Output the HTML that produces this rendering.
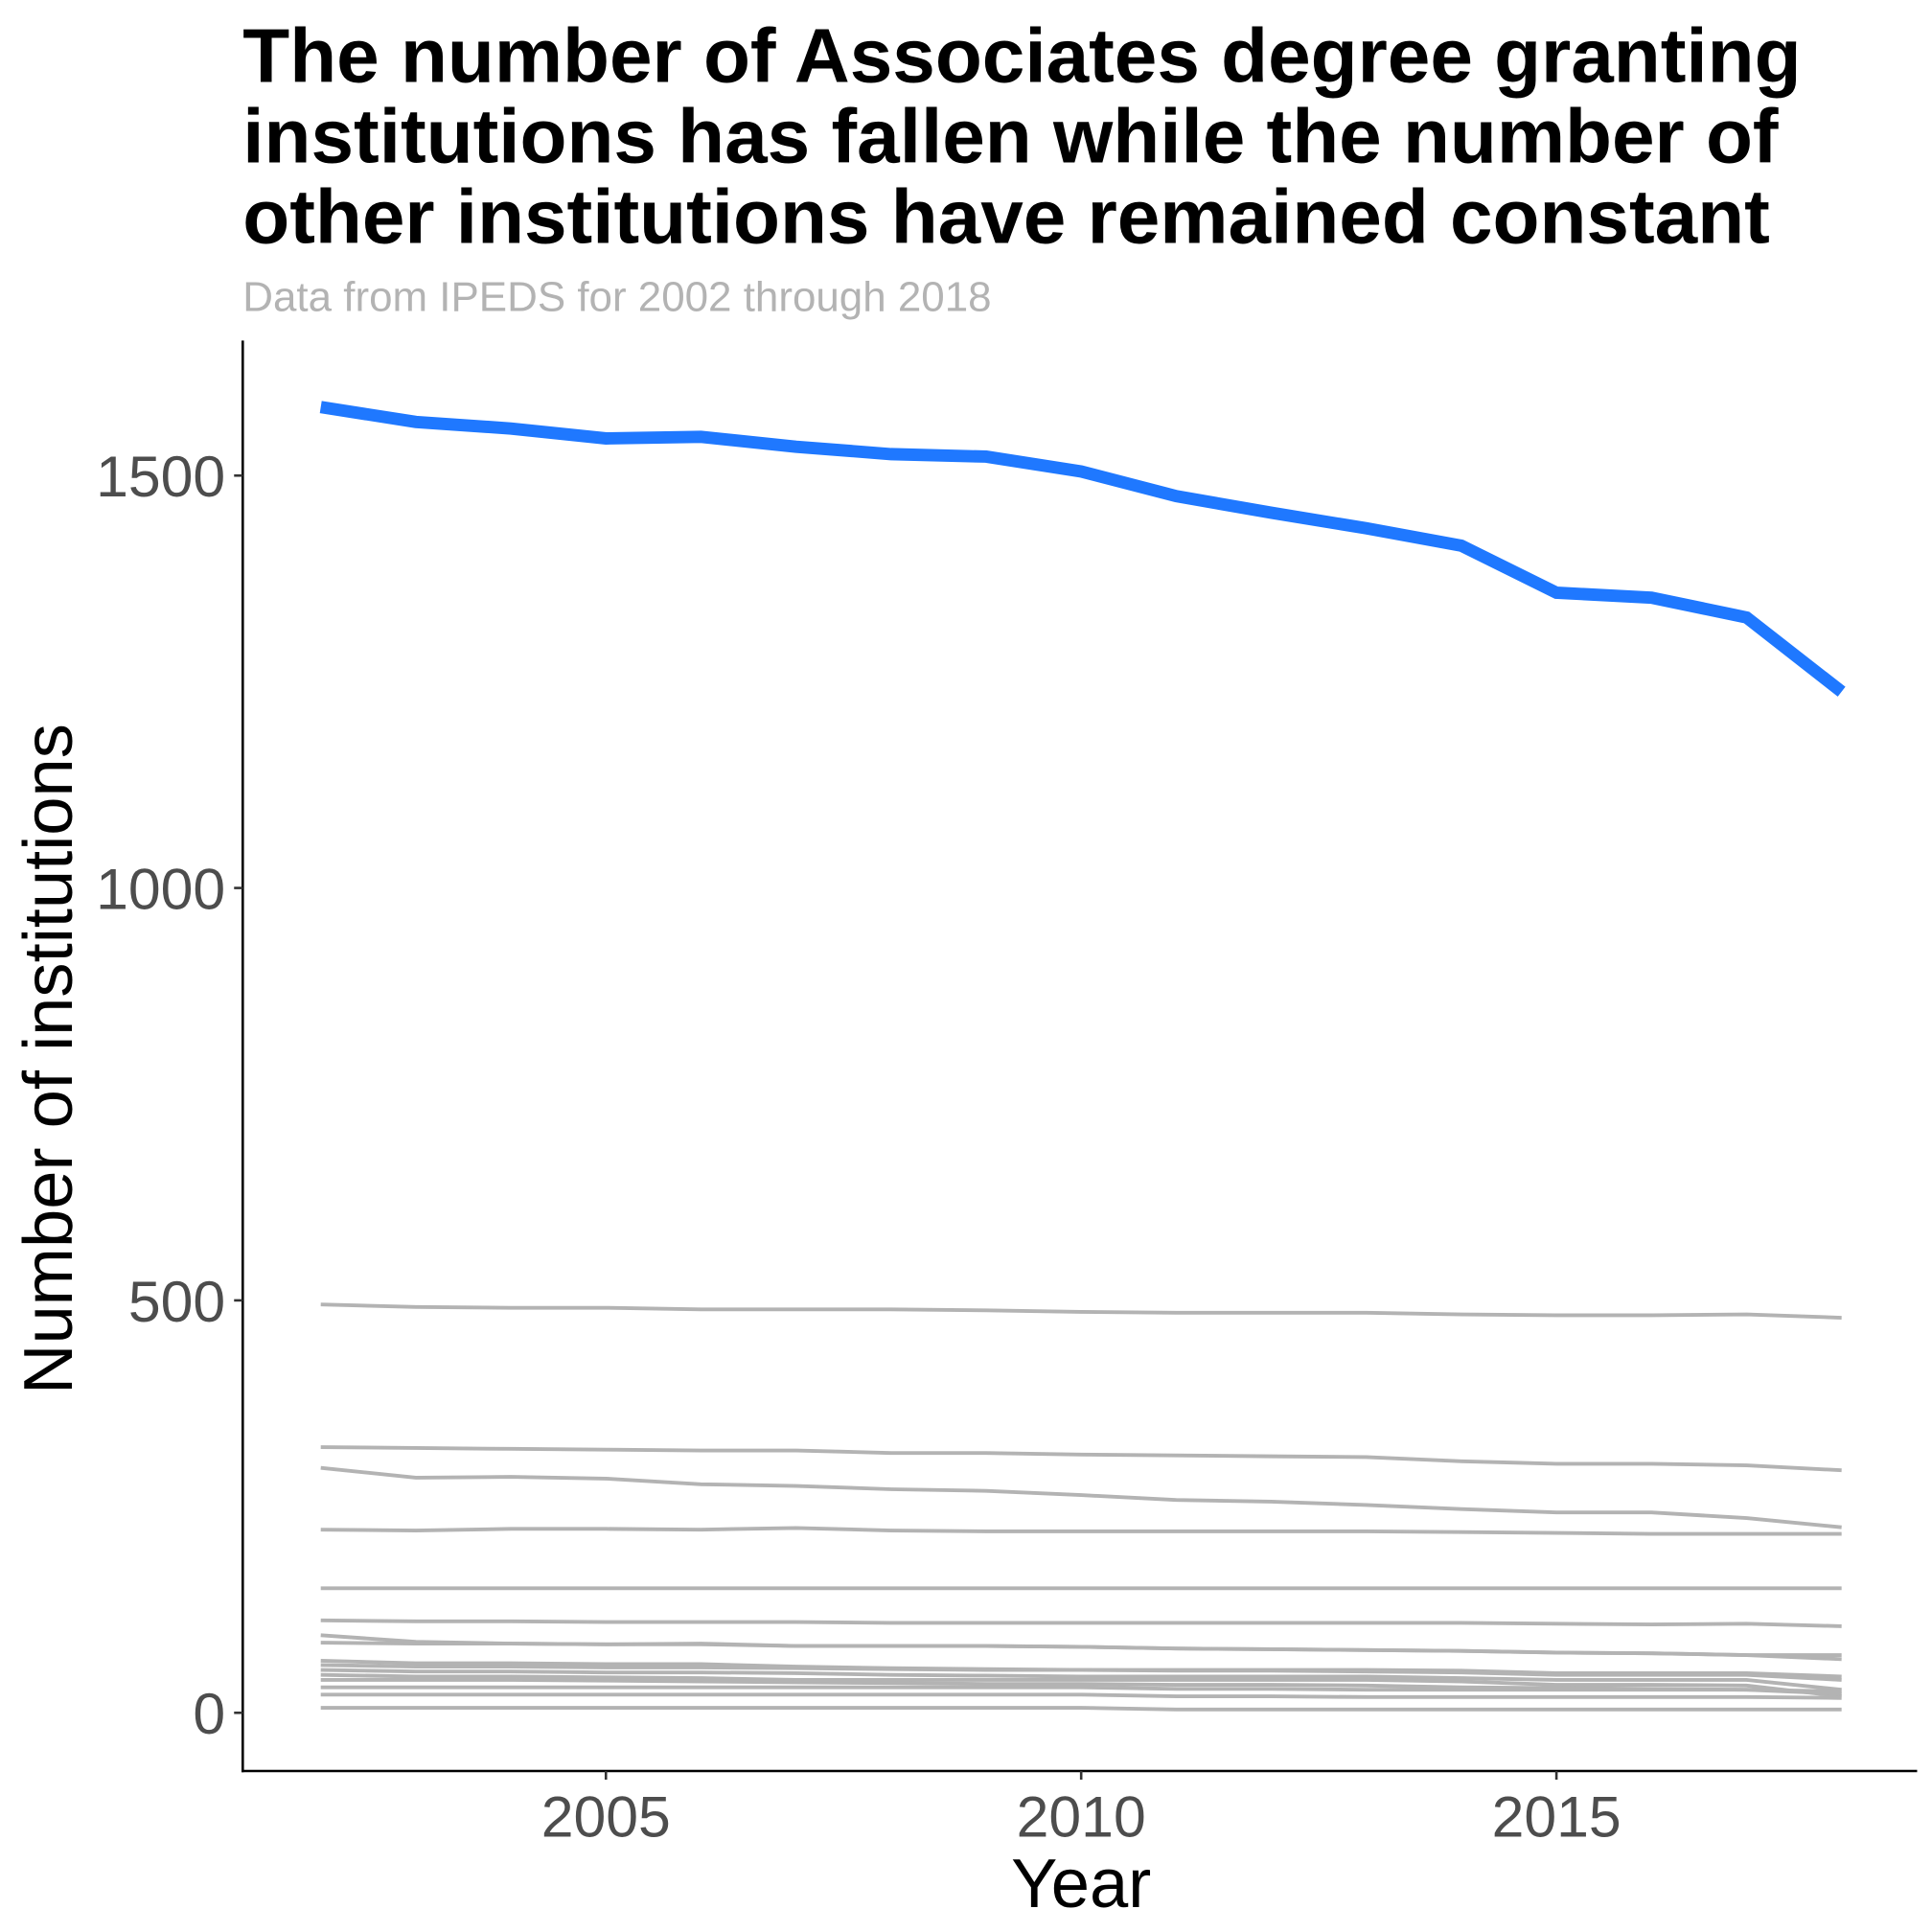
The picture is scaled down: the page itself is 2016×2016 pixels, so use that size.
<!DOCTYPE html>
<html><head><meta charset="utf-8">
<style>
html,body{margin:0;padding:0;background:#fff;}
svg{display:block;font-family:"Liberation Sans",Arial,sans-serif;}
</style></head>
<body>
<svg id="chart" width="2016" height="2016" viewBox="0 0 1560 1560" xmlns="http://www.w3.org/2000/svg">
  <text font-weight="bold" font-size="62" fill="#000">
    <tspan x="196" y="66">The number of Associates degree granting</tspan>
    <tspan x="196" y="131">institutions has fallen while the number of</tspan>
    <tspan x="196" y="196">other institutions have remained constant</tspan>
  </text>
  <text x="196" y="251" font-size="34" fill="#b3b3b3">Data from IPEDS for 2002 through 2018</text>
  <g id="grey-lines"></g>
  <g id="blue-line"></g>
  <line x1="196" y1="275" x2="196" y2="1431" stroke="#000" stroke-width="2"/>
  <line x1="195" y1="1430" x2="1548" y2="1430" stroke="#000" stroke-width="2"/>
  <g id="y-ticks"></g>
  <g id="x-ticks"></g>
  <text x="873" y="1540" font-size="56" text-anchor="middle" fill="#000">Year</text>
  <text transform="translate(58,855) rotate(-90)" font-size="56" text-anchor="middle" fill="#000">Number of institutions</text>
</svg>
<script>
const years = [2002,2003,2004,2005,2006,2007,2008,2009,2010,2011,2012,2013,2014,2015,2016,2017,2018];
const associates = [1583,1565,1557,1545,1547,1535,1526,1523,1505,1475,1455,1436,1415,1358,1352,1328,1238];
const other1 = [495,492,491,491,489,489,489,488,486,485,485,485,483,482,482,483,479];
const other2 = [322,321,320,319,318,318,315,315,313,312,311,310,305,302,302,300,294];
const other3 = [297,285,286,284,277,275,271,269,264,258,256,252,247,243,243,236,225];
const other4 = [222,221,223,223,222,224,221,220,220,220,220,220,219,218,217,217,217];
const other5 = [151,151,151,151,151,151,151,151,151,151,151,151,151,151,151,151,151];
const other6 = [112,111,111,110,110,110,109,109,109,109,109,109,109,108,107,108,105];
const other7 = [94,86,84,83,83,81,81,81,80,78,77,76,75,73,72,70,65];
const other8 = [85,84,84,83,84,81,81,81,80,78,77,76,75,73,72,70,70];
const other9 = [63,60,60,59,59,56,54,53,52,52,52,52,51,48,48,48,44];
const other10 = [58,56,56,55,55,54,53,52,52,51,51,50,49,46,46,46,40];
const other11 = [52,50,50,49,49,48,46,45,44,44,44,44,42,40,40,40,28];
const other12 = [46,44,44,43,42,40,40,40,40,40,40,40,38,34,34,33,20];
const other13 = [40,40,40,39,38,37,36,35,35,34,34,33,31,30,29,28,23];
const other14 = [31,31,31,31,31,31,31,31,31,29,29,28,28,28,28,28,26];
const other15 = [22,22,22,22,22,22,22,22,22,20,20,19,19,19,19,19,18];
const other16 = [6,6,6,6,6,6,6,6,6,4,4,4,4,4,4,4,4];
const otherSeries = [other1,other2,other3,other4,other5,other6,other7,other8,other9,other10,other11,other12,other13,other14,other15,other16];
const yTicks = [0,500,1000,1500];
const xTicks = [2005,2010,2015];

const NS = "http://www.w3.org/2000/svg";
function xScale(yr){ return 259 + (yr-2002)*(1487-259)/16; }
function yScale(v){ return 1383 - v*(1383-384)/1500; }
function linePath(vals){
  return vals.map((v,i)=>(i?"L":"M")+xScale(years[i]).toFixed(1)+","+yScale(v).toFixed(1)).join(" ");
}
const grey = document.getElementById("grey-lines");
otherSeries.forEach((s,i)=>{
  const p = document.createElementNS(NS,"path");
  p.setAttribute("d", linePath(s));
  p.setAttribute("fill","none");
  p.setAttribute("stroke","#b3b3b3");
  p.setAttribute("stroke-width","3");
  
  
  grey.appendChild(p);
});
const blue = document.createElementNS(NS,"path");
blue.setAttribute("d", linePath(associates));
blue.setAttribute("fill","none");
blue.setAttribute("stroke","#1f78ff");
blue.setAttribute("stroke-width","10");


document.getElementById("blue-line").appendChild(blue);

const yt = document.getElementById("y-ticks");
yTicks.forEach(v=>{
  const y = yScale(v);
  const l = document.createElementNS(NS,"line");
  l.setAttribute("x1",189); l.setAttribute("x2",196);
  l.setAttribute("y1",y); l.setAttribute("y2",y);
  l.setAttribute("stroke","#333"); l.setAttribute("stroke-width","2");
  
  
  yt.appendChild(l);
  const t = document.createElementNS(NS,"text");
  t.setAttribute("x",182); t.setAttribute("y",y+17);
  t.setAttribute("text-anchor","end");
  t.setAttribute("font-size","47");
  t.setAttribute("fill","#4d4d4d");
  t.textContent = v;
  
  
  yt.appendChild(t);
});
const xt = document.getElementById("x-ticks");
xTicks.forEach(v=>{
  const x = xScale(v);
  const l = document.createElementNS(NS,"line");
  l.setAttribute("x1",x); l.setAttribute("x2",x);
  l.setAttribute("y1",1430); l.setAttribute("y2",1437);
  l.setAttribute("stroke","#333"); l.setAttribute("stroke-width","2");
  
  
  xt.appendChild(l);
  const t = document.createElementNS(NS,"text");
  t.setAttribute("x",x); t.setAttribute("y",1483);
  t.setAttribute("text-anchor","middle");
  t.setAttribute("font-size","47");
  t.setAttribute("fill","#4d4d4d");
  t.textContent = v;
  
  
  xt.appendChild(t);
});
</script>
</body></html>
